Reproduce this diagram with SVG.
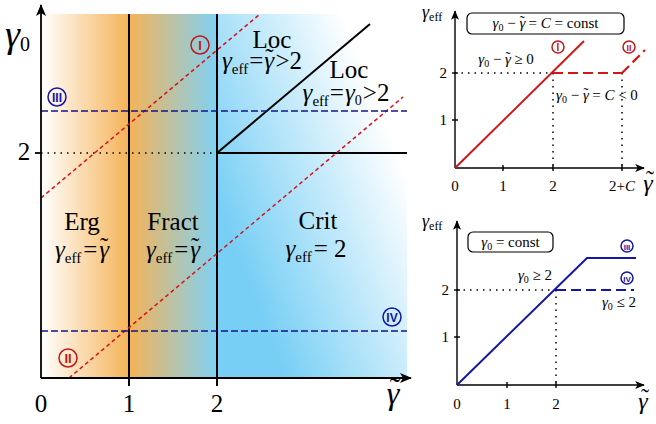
<svg xmlns="http://www.w3.org/2000/svg" width="656" height="424" viewBox="0 0 656 424">
<defs>
  <linearGradient id="gErg" x1="41" y1="0" x2="129" y2="0" gradientUnits="userSpaceOnUse">
    <stop offset="0" stop-color="#ffffff"/>
    <stop offset="1" stop-color="#f5b357"/>
  </linearGradient>
  <linearGradient id="gFract" x1="129" y1="0" x2="217" y2="0" gradientUnits="userSpaceOnUse">
    <stop offset="0" stop-color="#f5b357"/>
    <stop offset="1" stop-color="#7fd2f4"/>
  </linearGradient>
  <linearGradient id="gCrit" x1="217" y1="200" x2="420" y2="120" gradientUnits="userSpaceOnUse">
    <stop offset="0" stop-color="#78cff5"/>
    <stop offset="0.85" stop-color="#ffffff"/>
  </linearGradient>
  <marker id="arr" viewBox="0 -5 12 10" markerWidth="12" markerHeight="10" refX="11" refY="0" orient="auto" markerUnits="userSpaceOnUse">
    <path d="M0,-5 L12,0 L0,5 L3,0 z" fill="#000"/>
  </marker>
  <marker id="arrS" viewBox="0 -5 12 10" markerWidth="10" markerHeight="8" refX="11" refY="0" orient="auto" markerUnits="userSpaceOnUse">
    <path d="M0,-5 L12,0 L0,5 L3,0 z" fill="#000"/>
  </marker>
</defs>
<style>
  svg { font-family: "Liberation Serif", "DejaVu Serif", serif; }
  text { font-family: "Liberation Serif", "DejaVu Serif", serif; fill: #000; }
  .big { font-size: 25px; }
  .sm { font-size: 15px; }
  .g { font-style: italic; }
  .ax { stroke: #000; stroke-width: 1.8; fill: none; }
  .axs { stroke: #000; stroke-width: 1.4; fill: none; }
  .blk { stroke: #000; stroke-width: 2; fill: none; }
  .dot { stroke: #000; stroke-width: 1.5; stroke-dasharray: 1.5 5; fill: none; }
  .rdash { stroke: #d7141c; stroke-width: 1.5; stroke-dasharray: 4 3; fill: none; }
  .bdash { stroke: #14148c; stroke-width: 1.5; stroke-dasharray: 7 3; fill: none; }
  .red { stroke: #d01818; stroke-width: 2; fill: none; }
  .redd { stroke: #d01818; stroke-width: 2.2; stroke-dasharray: 10 5; fill: none; }
  .blu { stroke: #1515a8; stroke-width: 2; fill: none; }
  .blud { stroke: #1515a8; stroke-width: 2.2; stroke-dasharray: 10 5; fill: none; }
  .cr { stroke: #c01818; stroke-width: 1.5; fill: none; }
  .cb { stroke: #1515a8; stroke-width: 1.5; fill: none; }
  text.nr { font-family: "Liberation Sans", sans-serif; font-weight: bold; fill: #c01818; text-anchor: middle; }
  text.nb { font-family: "Liberation Sans", sans-serif; font-weight: bold; fill: #1515a8; text-anchor: middle; }
  .box { stroke: #000; stroke-width: 1.2; fill: #fff; }
</style>

<!-- main plot background regions -->
<g id="regions">
  <rect x="41" y="14" width="88" height="364" fill="url(#gErg)"/>
  <rect x="129" y="14" width="88" height="364" fill="url(#gFract)"/>
  <rect x="217" y="14" width="190" height="364" fill="url(#gCrit)"/>
</g>

<g id="connectors">
  <!-- main plot -->
  <line class="dot" x1="41" y1="153" x2="217" y2="153"/>
  <line class="blk" x1="129" y1="14" x2="129" y2="386"/>
  <line class="blk" x1="217" y1="14" x2="217" y2="386"/>
  <line class="blk" x1="217" y1="153" x2="370" y2="24"/>
  <line class="blk" x1="217" y1="153" x2="407" y2="153"/>
  <line class="rdash" x1="41" y1="198" x2="260" y2="14"/>
  <line class="rdash" x1="69" y1="378" x2="403" y2="97"/>
  <line class="bdash" x1="41" y1="111" x2="407" y2="111"/>
  <line class="bdash" x1="41" y1="331" x2="407" y2="331"/>
  <line class="ax" x1="35" y1="153" x2="41" y2="153"/>
  <line class="ax" x1="41" y1="378" x2="41" y2="5" marker-end="url(#arr)"/>
  <line class="ax" x1="41" y1="378" x2="411" y2="378" marker-end="url(#arr)"/>

  <!-- top-right plot -->
  <line class="dot" x1="455" y1="73" x2="553" y2="73"/>
  <line class="dot" x1="553" y1="73" x2="553" y2="168"/>
  <line class="dot" x1="622" y1="73" x2="622" y2="168"/>
  <line class="axs" x1="455" y1="168" x2="455" y2="11" marker-end="url(#arrS)"/>
  <line class="axs" x1="455" y1="168" x2="644" y2="168" marker-end="url(#arrS)"/>
  <line class="axs" x1="503" y1="165" x2="503" y2="171"/>
  <line class="axs" x1="553" y1="165" x2="553" y2="171"/>
  <line class="axs" x1="622" y1="165" x2="622" y2="171"/>
  <line class="axs" x1="452" y1="120" x2="458" y2="120"/>
  <line class="axs" x1="452" y1="73" x2="458" y2="73"/>
  <line class="red" x1="455" y1="168" x2="584" y2="41"/>
  <line class="redd" x1="553" y1="73" x2="622" y2="73"/>
  <line class="redd" x1="622" y1="73" x2="645" y2="50" stroke-dasharray="8 4"/>

  <!-- bottom-right plot -->
  <line class="dot" x1="457" y1="290" x2="556" y2="290"/>
  <line class="dot" x1="556" y1="290" x2="556" y2="385"/>
  <line class="axs" x1="457" y1="385" x2="457" y2="221" marker-end="url(#arrS)"/>
  <line class="axs" x1="457" y1="385" x2="644" y2="385" marker-end="url(#arrS)"/>
  <line class="axs" x1="507" y1="382" x2="507" y2="388"/>
  <line class="axs" x1="556" y1="382" x2="556" y2="388"/>
  <line class="axs" x1="454" y1="337" x2="460" y2="337"/>
  <line class="axs" x1="454" y1="290" x2="460" y2="290"/>
  <polyline class="blu" points="457,385 587,258 636,258"/>
  <line class="blud" x1="556" y1="290" x2="634" y2="290"/>
</g>

<!-- main plot labels -->
<g id="main-labels">
  <text x="5" y="47" style="font-size:38px" class="g">γ<tspan style="font-size:20px;font-style:normal" dy="4">0</tspan></text>
  <text x="24" y="160" class="big" text-anchor="middle">2</text>
  <text x="41" y="412" class="big" text-anchor="middle">0</text>
  <text x="129" y="412" class="big" text-anchor="middle">1</text>
  <text x="217" y="412" class="big" text-anchor="middle">2</text>
  <text x="393" y="404" style="font-size:32px" class="g" text-anchor="middle">γ</text>
  <text x="395" y="399" style="font-size:32px" text-anchor="middle">˜</text>
</g>

<g id="erg">
  <text x="82" y="230" class="big" text-anchor="middle">Erg</text>
  <text x="82" y="258" class="big" text-anchor="middle"><tspan class="g">γ</tspan><tspan style="font-size:15px" dy="5">eff</tspan><tspan dy="-5" dx="2">=</tspan><tspan class="g" dx="2">γ</tspan><tspan dx="-9" dy="-3">˜</tspan></text>
</g>
<g id="fract">
  <text x="173" y="230" class="big" text-anchor="middle">Fract</text>
  <text x="173" y="258" class="big" text-anchor="middle"><tspan class="g">γ</tspan><tspan style="font-size:15px" dy="5">eff</tspan><tspan dy="-5" dx="2">=</tspan><tspan class="g" dx="2">γ</tspan><tspan dx="-9" dy="-3">˜</tspan></text>
</g>
<g id="crit">
  <text x="318" y="229" class="big" text-anchor="middle">Crit</text>
  <text x="316" y="257" class="big" text-anchor="middle"><tspan class="g">γ</tspan><tspan style="font-size:15px" dy="5">eff</tspan><tspan dy="-5" dx="2">= 2</tspan></text>
</g>
<g id="loc1">
  <text x="272" y="48" class="big" text-anchor="middle">Loc</text>
  <text x="262" y="69" class="big" text-anchor="middle"><tspan class="g">γ</tspan><tspan style="font-size:15px" dy="5">eff</tspan><tspan dy="-5" dx="1">=</tspan><tspan class="g" dx="1">γ</tspan><tspan dx="-9" dy="-3">˜</tspan><tspan dy="3" dx="2">&gt;2</tspan></text>
</g>
<g id="loc2">
  <text x="349" y="78" class="big" text-anchor="middle">Loc</text>
  <text x="346" y="101" class="big" text-anchor="middle"><tspan class="g">γ</tspan><tspan style="font-size:15px" dy="5">eff</tspan><tspan dy="-5" dx="1">=</tspan><tspan class="g" dx="1">γ</tspan><tspan style="font-size:14px" dy="4">0</tspan><tspan dy="-4" dx="1">&gt;2</tspan></text>
</g>

<g id="mark-I">
  <circle class="cr" cx="200" cy="45" r="9"/>
  <text class="nr" x="200" y="50" font-size="13">I</text>
</g>
<g id="mark-II">
  <circle class="cr" cx="68" cy="358" r="9"/>
  <text class="nr" x="68" y="363" font-size="13">II</text>
</g>
<g id="mark-III">
  <circle class="cb" cx="57" cy="97" r="9"/>
  <text class="nb" x="57" y="102" font-size="12">III</text>
</g>
<g id="mark-IV">
  <circle class="cb" cx="392" cy="317" r="9"/>
  <text class="nb" x="392" y="322" font-size="12">IV</text>
</g>

<!-- top-right plot labels -->
<g id="tr-labels">
  <text x="422" y="18" style="font-size:18px"><tspan class="g">γ</tspan><tspan style="font-size:12px" dy="3">eff</tspan></text>
  <text x="455" y="191" class="sm" text-anchor="middle">0</text>
  <text x="503" y="191" class="sm" text-anchor="middle">1</text>
  <text x="553" y="191" class="sm" text-anchor="middle">2</text>
  <text x="622" y="191" class="sm" text-anchor="middle">2+<tspan class="g">C</tspan></text>
  <text x="648" y="191" style="font-size:24px" class="g" text-anchor="middle">γ</text>
  <text x="650" y="187" style="font-size:24px" text-anchor="middle">˜</text>
  <text x="447" y="78" class="sm" text-anchor="end">2</text>
  <text x="447" y="125" class="sm" text-anchor="end">1</text>
  <text x="506" y="64" class="sm" text-anchor="middle"><tspan class="g">γ</tspan><tspan style="font-size:10px" dy="3">0</tspan><tspan dy="-3"> − </tspan><tspan class="g">γ</tspan><tspan dx="-5.5" dy="-2">˜</tspan><tspan dy="2"> ≥ 0</tspan></text>
  <text x="597" y="100" class="sm" text-anchor="middle"><tspan class="g">γ</tspan><tspan style="font-size:10px" dy="3">0</tspan><tspan dy="-3"> − </tspan><tspan class="g">γ</tspan><tspan dx="-5.5" dy="-2">˜</tspan><tspan dy="2"> = </tspan><tspan class="g">C</tspan><tspan> &lt; 0</tspan></text>
</g>
<g id="tr-box">
  <rect class="box" x="467" y="13" width="157" height="21" rx="5"/>
  <text x="545.5" y="28" class="sm" text-anchor="middle"><tspan class="g">γ</tspan><tspan style="font-size:10px" dy="3">0</tspan><tspan dy="-3"> − </tspan><tspan class="g">γ</tspan><tspan dx="-5.5" dy="-2">˜</tspan><tspan dy="2"> = </tspan><tspan class="g">C</tspan><tspan> = const</tspan></text>
</g>
<g id="tr-mark-I">
  <circle class="cr" cx="558" cy="47" r="6"/>
  <text class="nr" x="558" y="51" font-size="10">I</text>
</g>
<g id="tr-mark-II">
  <circle class="cr" cx="629" cy="47" r="6"/>
  <text class="nr" x="629" y="51" font-size="9">II</text>
</g>

<!-- bottom-right plot labels -->
<g id="br-labels">
  <text x="422" y="227" style="font-size:18px"><tspan class="g">γ</tspan><tspan style="font-size:12px" dy="3">eff</tspan></text>
  <text x="457" y="409" class="sm" text-anchor="middle">0</text>
  <text x="507" y="409" class="sm" text-anchor="middle">1</text>
  <text x="556" y="409" class="sm" text-anchor="middle">2</text>
  <text x="643" y="409" style="font-size:24px" class="g" text-anchor="middle">γ</text>
  <text x="645" y="405" style="font-size:24px" text-anchor="middle">˜</text>
  <text x="449" y="295" class="sm" text-anchor="end">2</text>
  <text x="449" y="342" class="sm" text-anchor="end">1</text>
  <text x="535" y="280" class="sm" text-anchor="middle"><tspan class="g">γ</tspan><tspan style="font-size:10px" dy="3">0</tspan><tspan dy="-3"> ≥ 2</tspan></text>
  <text x="619" y="307" class="sm" text-anchor="middle"><tspan class="g">γ</tspan><tspan style="font-size:10px" dy="3">0</tspan><tspan dy="-3"> ≤ 2</tspan></text>
</g>
<g id="br-box">
  <rect class="box" x="468" y="232" width="85" height="20" rx="5"/>
  <text x="510.5" y="247" class="sm" text-anchor="middle"><tspan class="g">γ</tspan><tspan style="font-size:10px" dy="3">0</tspan><tspan dy="-3"> = const</tspan></text>
</g>
<g id="br-mark-III">
  <circle class="cb" cx="627" cy="246" r="6"/>
  <text class="nb" x="627" y="250" font-size="8">III</text>
</g>
<g id="br-mark-IV">
  <circle class="cb" cx="627" cy="278" r="6"/>
  <text class="nb" x="627" y="282" font-size="8">IV</text>
</g>
</svg>
